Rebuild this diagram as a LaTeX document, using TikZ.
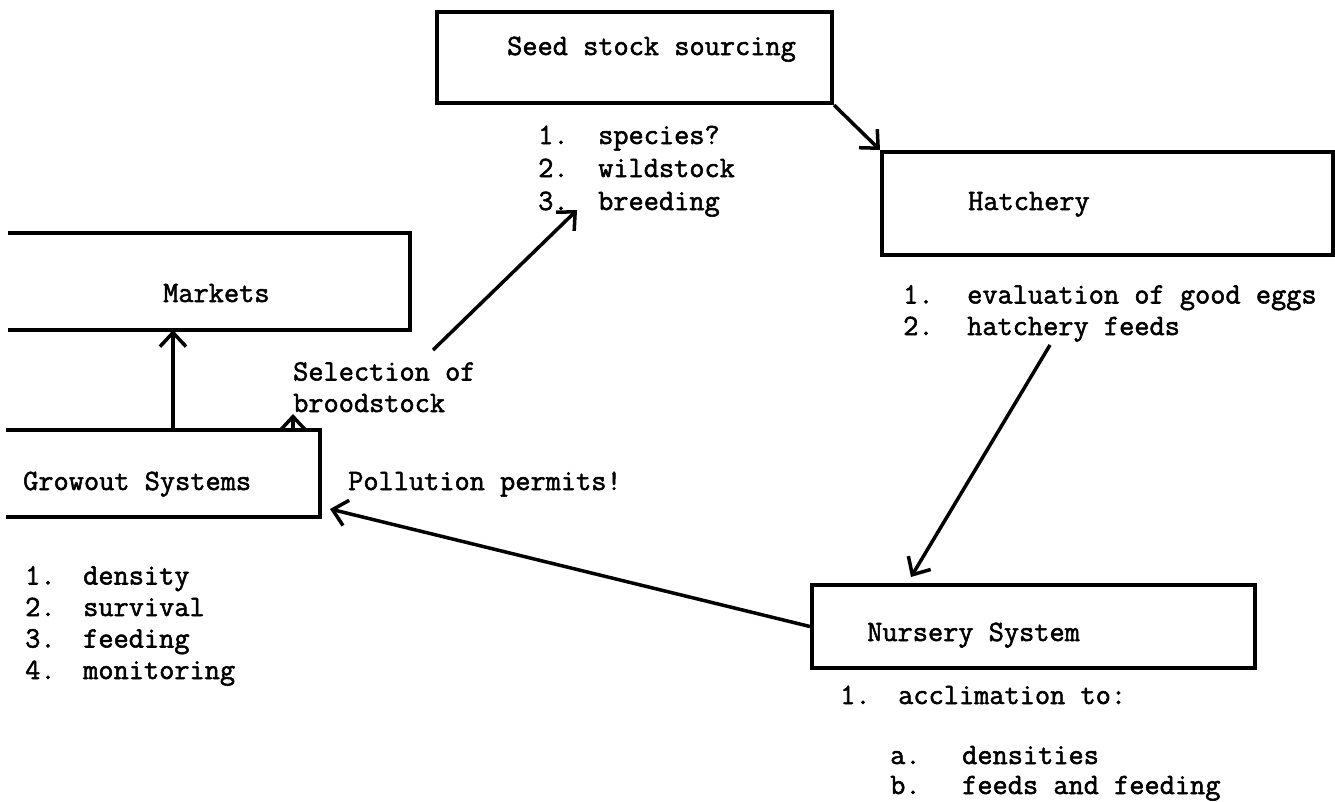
\documentclass[tikz,border=0pt]{standalone}
\usepackage{fontspec}
\setmonofont{Latin Modern Mono}[FakeBold=1.8]
\usepackage{tikz}
\usetikzlibrary{arrows.meta}

\newcommand{\li}[3][60pt]{\makebox[#1][l]{#2}#3}

\begin{document}
\begin{tikzpicture}[x = 1pt, y = -1pt, > = {Straight Barb[length=14pt, width=26pt]},
    box/.style = {draw, line width=4pt, inner sep=0pt},
    openbox/.style = {inner sep=0pt, outer sep=2pt},
    txt/.style = {inner sep=0pt, anchor=base west, align=left,
        font=\ttfamily\fontsize{29.5}{31.5}\selectfont},
    arr/.style = {->, line width=3.5pt}]
    \useasboundingbox (0,0) rectangle (1335,801);

    \node[box, minimum width=395pt, minimum height=91pt] (seed) at (634.5,57.5) {};
    \node[box, minimum width=451pt, minimum height=103pt] (hatch) at (1107.5,203.5) {};
    \node[box, minimum width=443pt, minimum height=83pt] (nursery) at (1033.5,626.5) {};
    \node[openbox, minimum width=398pt, minimum height=93pt] (markets) at (209,281.5) {};
    \node[openbox, minimum width=310pt, minimum height=83pt] (growout) at (163,473.5) {};
    \draw[line width=4pt] (markets.north west) -| (markets.south east) -- (markets.south west);
    \draw[line width=4pt] (growout.north west) -| (growout.south east) -- (growout.south west);

    \node[txt] (seedtxt) at (507,55) {Seed stock sourcing};
    \node[txt] (hatchtxt) at (968,210) {Hatchery};
    \node[txt] (nurserytxt) at (867,641) {Nursery System};
    \node[txt] (marketstxt) at (163,302) {Markets};
    \node[txt] (growouttxt) at (23,490) {Growout Systems};

    \node[txt, font=\ttfamily\fontsize{29.5}{33}\selectfont] (seedlist) at (538,210)
        {\li{1.}{species?}\\ \li{2.}{wildstock}\\ \li{3.}{breeding}};
    \node[txt] (hatchlist) at (903,335) {\li[64pt]{1.}{evaluation of good eggs}\\ \li[64pt]{2.}{hatchery feeds}};
    \node[txt] (growlist) at (25,679) {\li[58pt]{1.}{density}\\ \li[58pt]{2.}{survival}\\
        \li[58pt]{3.}{feeding}\\ \li[58pt]{4.}{monitoring}};
    \node[txt] (nurserylist) at (840,704) {\li[58pt]{1.}{acclimation to:}};
    \node[txt, font=\ttfamily\fontsize{29.5}{30}\selectfont] (sublist) at (890,794)
        {\li[72pt]{a.}{densities}\\ \li[72pt]{b.}{feeds and feeding}};

    \node[txt] (sel) at (293,412) {Selection of\\broodstock};
    \node[txt] (poll) at (348,490) {Pollution permits!};

    \coordinate (seltop) at (433,350);
    \coordinate (brd) at (577,210);
    \coordinate (hfeed) at (1050,345);

    \draw[arr] (seed.south east) -- (hatch.north west);
    \draw[arr] (hfeed) -- ([xshift=101pt, yshift=6pt]nursery.north west);
    \draw[arr] (nursery.west) -- ([xshift=10pt, yshift=8pt]growout.south east);
    \draw[arr] (growout.north -| 173,0) -- (markets.south -| 173,0);
    \draw[arr] (growout.north -| 293,0) -- (293,414);
    \draw[arr] (seltop) -- (brd);
\end{tikzpicture}
\end{document}
